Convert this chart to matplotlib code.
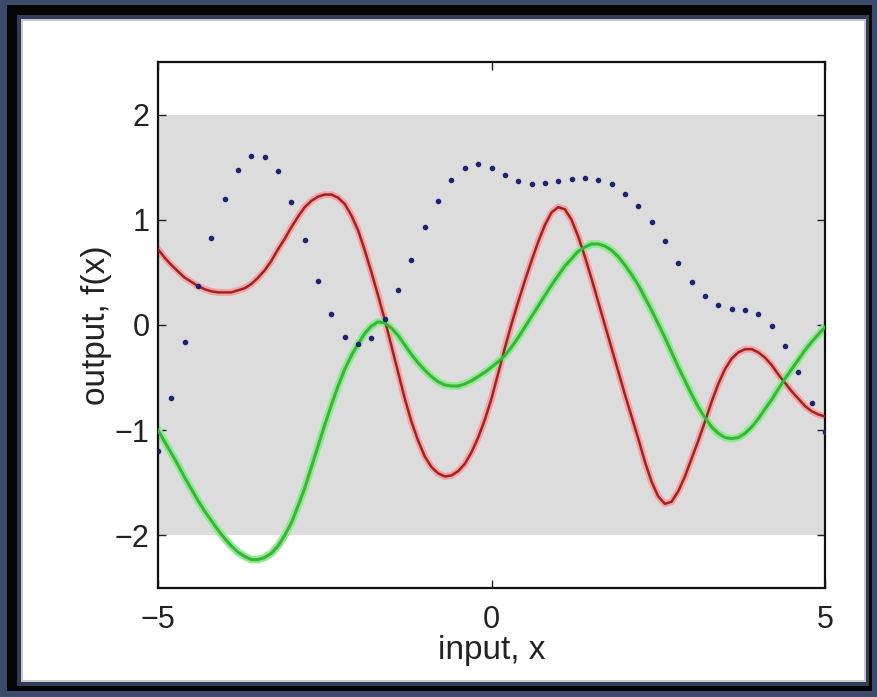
import numpy as np
import matplotlib
matplotlib.use('Agg')
import matplotlib.pyplot as plt
from matplotlib.patches import Rectangle

plt.rcParams['font.family'] = ['Liberation Sans', 'DejaVu Sans']

# inputs of the blue dots (every 0.2 from -5 to 5)
x_dots = np.round(np.arange(-5.0, 5.01, 0.2), 1)
dots = [-1.20, -0.69, -0.16, 0.37, 0.83, 1.20, 1.47, 1.61, 1.60, 1.46,
        1.17, 0.81, 0.42, 0.10, -0.11, -0.18, -0.12, 0.06, 0.33, 0.62,
        0.93, 1.18, 1.38, 1.49, 1.53, 1.49, 1.43, 1.37, 1.34, 1.35,
        1.37, 1.39, 1.40, 1.38, 1.34, 1.25, 1.13, 0.98, 0.80, 0.59,
        0.41, 0.28, 0.19, 0.15, 0.14, 0.10, -0.01, -0.20, -0.45, -0.74,
        -1.02]

# inputs of the two curves (every 0.1 from -5 to 5)
x = np.round(np.arange(-5.0, 5.001, 0.1), 1)

# red sample
red = [0.72, 0.64, 0.57, 0.51, 0.45, 0.41, 0.37, 0.34, 0.32, 0.31,
       0.31, 0.31, 0.33, 0.35, 0.39, 0.45, 0.52, 0.61, 0.72, 0.82,
       0.93, 1.03, 1.12, 1.18, 1.22, 1.24, 1.24, 1.21, 1.15, 1.04,
       0.90, 0.71, 0.50, 0.28, 0.05, -0.20, -0.45, -0.70, -0.92, -1.10,
       -1.25, -1.35, -1.41, -1.44, -1.43, -1.39, -1.32, -1.21, -1.07, -0.90,
       -0.70, -0.46, -0.22, 0.01, 0.22, 0.42, 0.61, 0.79, 0.95, 1.07,
       1.12, 1.10, 1.00, 0.84, 0.65, 0.44, 0.22, 0.00, -0.22, -0.44,
       -0.66, -0.87, -1.08, -1.30, -1.49, -1.63, -1.70, -1.68, -1.58, -1.44,
       -1.27, -1.10, -0.92, -0.73, -0.56, -0.42, -0.32, -0.26, -0.23, -0.23,
       -0.26, -0.31, -0.38, -0.47, -0.55, -0.63, -0.70, -0.77, -0.82, -0.85,
       -0.87]

# green sample
green = [-1.00, -1.11, -1.22, -1.33, -1.45, -1.56, -1.67, -1.77, -1.86, -1.95,
         -2.03, -2.10, -2.16, -2.20, -2.23, -2.23, -2.21, -2.17, -2.10, -2.00,
         -1.88, -1.72, -1.55, -1.35, -1.15, -0.95, -0.76, -0.58, -0.42, -0.29,
         -0.18, -0.08, -0.01, 0.03, 0.02, -0.03, -0.10, -0.19, -0.28, -0.36,
         -0.43, -0.49, -0.54, -0.57, -0.58, -0.58, -0.56, -0.53, -0.49, -0.45,
         -0.40, -0.35, -0.29, -0.21, -0.12, -0.02, 0.08, 0.18, 0.28, 0.38,
         0.47, 0.56, 0.63, 0.70, 0.74, 0.77, 0.77, 0.75, 0.71, 0.65,
         0.57, 0.48, 0.38, 0.26, 0.14, 0.01, -0.12, -0.26, -0.40, -0.53,
         -0.66, -0.78, -0.88, -0.97, -1.03, -1.07, -1.08, -1.07, -1.03, -0.97,
         -0.89, -0.80, -0.71, -0.61, -0.51, -0.42, -0.33, -0.24, -0.16, -0.09,
         -0.02]

band_lower = -2
band_upper = 2

xticks = [-5, 0, 5]
yticks = [-2, -1, 0, 1, 2]

W, H = 877, 697
fig = plt.figure(figsize=(W / 100, H / 100), dpi=100)
fig.patch.set_facecolor('#3c4a6b')


def frame(l, t, r, b, color, z):
    # rectangle given in pixels from top left
    fig.add_artist(Rectangle((l / W, 1 - b / H), (r - l) / W, (b - t) / H,
                             transform=fig.transFigure, facecolor=color,
                             edgecolor='none', zorder=z))


frame(7, 5, 872, 691, '#050505', -10)
frame(17, 15, 869, 686, '#2f3c5a', -9)
frame(21, 19, 866, 682, '#c8c8c8', -8)
frame(23, 21, 864, 680, '#ffffff', -7)

ax = fig.add_axes([158 / W, 1 - 588 / H, (825 - 158) / W, (588 - 62) / H])
ax.set_facecolor('white')

ax.fill_between([x[0], x[-1]], band_lower, band_upper, color='#dcdcdc',
                linewidth=0, zorder=1)

ax.plot(x, red, color='#f4a4a4', lw=5, solid_joinstyle='round', zorder=2)
ax.plot(x, red, color='#9e2424', lw=1.8, solid_joinstyle='round', zorder=3)
ax.plot(x, green, color='#90ea90', lw=5.5, solid_joinstyle='round', zorder=2)
ax.plot(x, green, color='#3cb43c', lw=2.2, solid_joinstyle='round', zorder=3)
ax.plot(x_dots, dots, '.', color='#1b2470', markersize=6, zorder=4)

ax.set_xlim(-5, 5)
ax.set_ylim(-2.5, 2.5)
ax.set_xticks(xticks)
ax.set_yticks(yticks)
ax.set_xticklabels(['\u22125', '0', '5'])
ax.set_yticklabels(['\u22122', '\u22121', '0', '1', '2'])
ax.tick_params(direction='in', length=6, width=1, labelsize=22,
               top=True, right=True, colors='#222222')
ax.tick_params(axis='x', pad=12)
ax.tick_params(axis='y', pad=6)
for s in ax.spines.values():
    s.set_linewidth(1.6)
    s.set_color('#111111')

ax.set_xlabel('input, x', fontsize=24, labelpad=0, color='#222222')
ax.set_ylabel('output, f(x)', fontsize=24, labelpad=2, color='#222222')

fig.savefig('out.png', dpi=100, facecolor=fig.get_facecolor())
